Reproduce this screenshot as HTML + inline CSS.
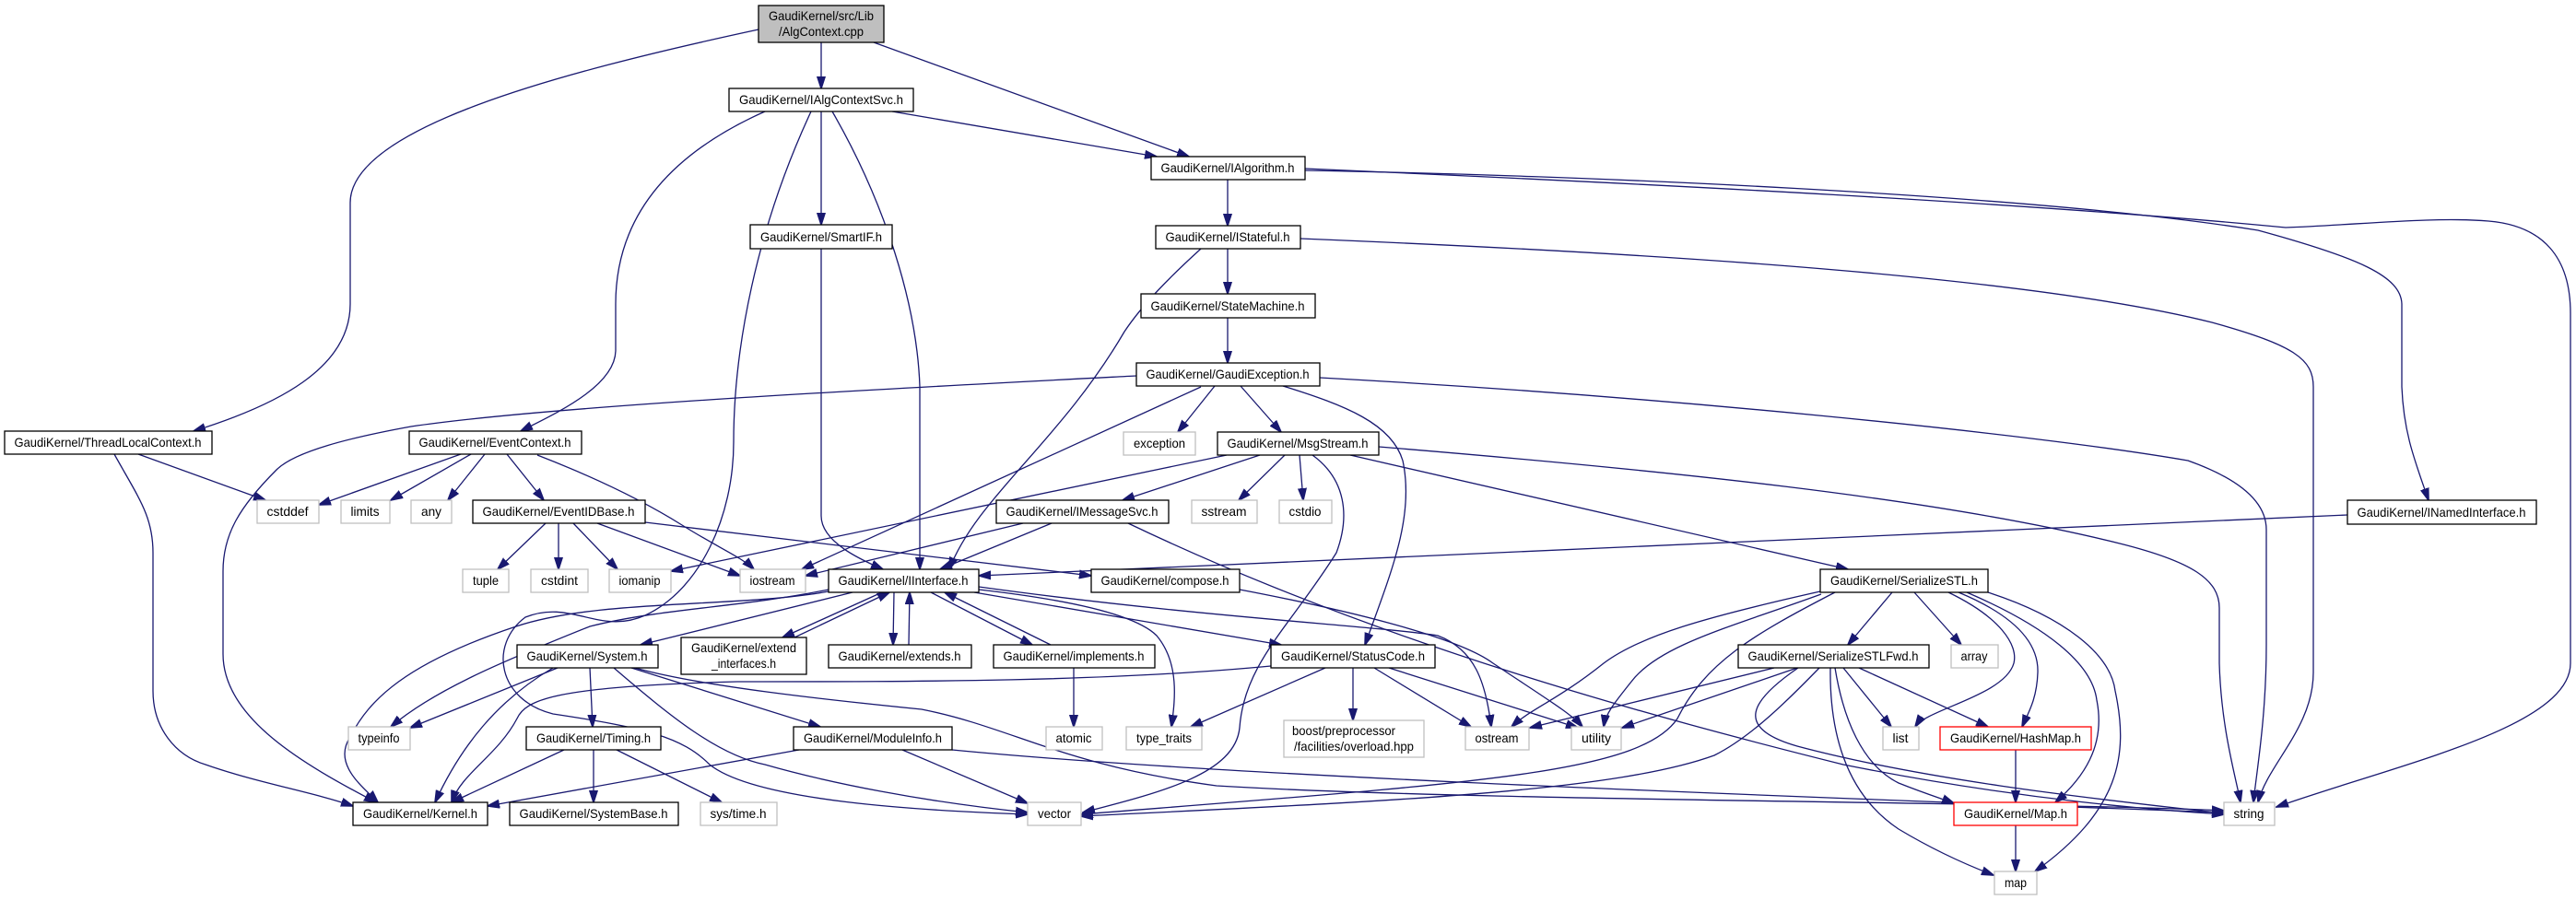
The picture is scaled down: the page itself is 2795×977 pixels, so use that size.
<!DOCTYPE html>
<html><head><meta charset="utf-8"><style>
html,body{margin:0;padding:0;background:#fff;}
svg{display:block;}
text{font-family:"Liberation Sans",sans-serif;font-size:14px;fill:#000;}
.e{fill:none;stroke:#191970;stroke-width:1.3;}
.n{fill:#fff;stroke:#000;stroke-width:1.3;}
.g{fill:#fff;stroke:#bfbfbf;stroke-width:1.3;}
.r{fill:#fff;stroke:#ff0000;stroke-width:1.3;}
</style></head><body>
<svg width="2795" height="977" viewBox="0 0 2795 977" xmlns="http://www.w3.org/2000/svg">
<defs><marker id="a" viewBox="0 0 14 10" markerWidth="14" markerHeight="10" refX="13" refY="5" orient="auto" markerUnits="userSpaceOnUse"><path d="M0,0.5 L14,5 L0,9.5 z" fill="#191970" stroke="#191970"/></marker></defs>
<g class="e" marker-end="url(#a)">
<path d="M891,46 L891,96"/>
<path d="M948,46 L1290,170"/>
<path d="M823,32 C600,80 380,140 380,220 L380,330 C380,400 300,440 210,468"/>
<path d="M968,121 L1255,170"/>
<path d="M891,121 L891,244"/>
<path d="M830,121 C720,170 668,240 668,330 L668,380 C668,420 600,450 565,468"/>
<path d="M903,121 C960,220 995,330 998,420 L998,618"/>
<path d="M880,121 C820,250 796,380 796,480 C796,560 760,640 700,668 C650,690 620,650 570,670 C530,700 540,760 600,775 C700,790 740,800 770,830 C820,870 1000,880 1115,884"/>
<path d="M1332,195 L1332,245"/>
<path d="M1416,185 C1700,190 2200,210 2450,250 C2560,280 2605,300 2606,330 L2606,420 C2608,470 2620,500 2635,543"/>
<path d="M1416,183 C1800,200 2200,220 2480,247 C2560,244 2640,235 2700,240 C2760,245 2789,280 2789,340 L2789,720 C2789,790 2600,830 2470,876"/>
<path d="M1332,270 L1332,319"/>
<path d="M1303,270 C1270,300 1240,330 1220,360 C1150,480 1060,540 1030,618"/>
<path d="M1411,259 C1800,275 2200,300 2400,350 C2490,375 2510,390 2510,420 L2510,730 C2510,790 2460,830 2450,871"/>
<path d="M1332,345 L1332,394"/>
<path d="M1318,419 L1278,469"/>
<path d="M1346,419 L1390,469"/>
<path d="M1392,419 C1460,440 1510,460 1522,500 C1535,560 1510,620 1481,700"/>
<path d="M1432,410 C1800,430 2200,470 2374,500 C2430,520 2459,545 2459,575 L2459,700 C2459,780 2448,840 2445,871"/>
<path d="M1496,485 C1800,510 2100,540 2300,590 C2380,610 2408,630 2408,660 L2408,720 C2410,790 2425,840 2431,871"/>
<path d="M1233,408 C1000,420 600,440 446,463 C380,475 320,490 300,510 C260,550 242,580 242,620 L242,710 C242,780 330,830 408,871"/>
<path d="M1303,420 L870,618"/>
<path d="M1331,494 L728,620"/>
<path d="M1110,568 L874,625"/>
<path d="M1367,494 L1218,543"/>
<path d="M1394,494 L1344,543"/>
<path d="M1410,494 L1414,543"/>
<path d="M1424,494 C1460,520 1465,560 1450,600 C1400,680 1350,720 1345,790 C1340,840 1260,860 1175,882"/>
<path d="M1465,494 L2005,618"/>
<path d="M1141,568 L1020,618"/>
<path d="M1224,568 C1500,700 1800,780 2000,830 C2200,870 2350,880 2413,884"/>
<path d="M891,270 L891,560 C891,590 940,610 958,618"/>
<path d="M2547,559 L1062,625"/>
<path d="M500,493 L346,548"/>
<path d="M511,493 L424,543"/>
<path d="M526,493 L486,543"/>
<path d="M550,493 L590,543"/>
<path d="M583,494 C650,520 700,545 740,570 C780,595 805,605 818,618"/>
<path d="M150,493 L288,543"/>
<path d="M124,493 C150,540 166,560 166,600 L166,750 C166,790 190,820 223,830 C280,850 340,860 383,875"/>
<path d="M592,568 L540,618"/>
<path d="M606,568 L606,618"/>
<path d="M622,568 L670,618"/>
<path d="M648,568 L803,625"/>
<path d="M700,567 L1184,625"/>
<path d="M925,643 L695,700"/>
<path d="M957,643 L849,692"/>
<path d="M862,692 L965,643"/>
<path d="M970,643 L969,700"/>
<path d="M986,700 L987,643"/>
<path d="M1010,643 L1120,700"/>
<path d="M1140,700 L1025,643"/>
<path d="M1057,643 L1390,700"/>
<path d="M1062,637 C1300,670 1500,680 1560,690 C1600,705 1612,740 1618,789"/>
<path d="M1062,640 C1150,650 1230,665 1255,690 C1280,720 1275,760 1271,789"/>
<path d="M899,640 C800,660 720,660 640,680 C540,720 470,750 424,789"/>
<path d="M899,642 C800,660 650,650 560,680 C440,720 400,760 380,800 C360,830 395,855 410,871"/>
<path d="M605,725 L445,790"/>
<path d="M600,725 C540,760 500,810 472,871"/>
<path d="M1379,723 C1200,740 1000,740 800,740 C600,745 570,760 561,780 C540,820 500,840 490,871"/>
<path d="M640,725 L643,789"/>
<path d="M685,725 L890,789"/>
<path d="M666,725 C730,780 780,820 830,830 C900,850 1000,870 1115,882"/>
<path d="M689,725 C760,745 900,760 1000,770 C1100,790 1150,830 1320,853 C1600,870 2200,870 2413,880"/>
<path d="M612,814 L490,871"/>
<path d="M644,814 L644,871"/>
<path d="M669,814 L783,871"/>
<path d="M867,814 L529,875"/>
<path d="M979,814 L1115,872"/>
<path d="M1033,814 C1300,840 1800,860 2413,882"/>
<path d="M1165,725 L1165,789"/>
<path d="M1438,725 L1292,789"/>
<path d="M1468,725 L1468,782"/>
<path d="M1491,725 L1596,789"/>
<path d="M1507,725 L1712,790"/>
<path d="M1345,640 C1450,660 1580,690 1620,720 C1680,760 1705,775 1717,789"/>
<path d="M2053,643 L2005,700"/>
<path d="M2077,643 L2128,700"/>
<path d="M1975,642 C1850,670 1780,690 1740,720 C1690,760 1660,770 1640,789"/>
<path d="M1976,645 C1880,680 1800,700 1770,740 C1750,765 1742,775 1740,789"/>
<path d="M1991,643 C1900,690 1850,720 1820,780 C1780,840 1600,850 1173,884"/>
<path d="M2114,643 C2170,670 2190,700 2185,720 C2175,755 2090,770 2078,789"/>
<path d="M2125,643 C2190,670 2212,700 2211,730 C2210,760 2200,775 2194,789"/>
<path d="M2134,643 C2220,680 2270,720 2275,760 C2285,810 2260,845 2230,871"/>
<path d="M2157,643 C2240,670 2290,710 2295,750 C2310,820 2300,880 2208,946"/>
<path d="M2000,725 L2052,789"/>
<path d="M2017,725 L2157,789"/>
<path d="M1991,725 C2000,780 2020,830 2060,850 C2090,862 2110,868 2120,872"/>
<path d="M1986,725 C1985,790 2000,860 2060,900 C2110,930 2150,945 2163,950"/>
<path d="M1925,725 L1660,790"/>
<path d="M1950,725 L1760,790"/>
<path d="M1974,725 C1940,760 1900,800 1860,820 C1750,860 1500,870 1173,886"/>
<path d="M1951,725 C1900,760 1880,790 1950,810 C2100,850 2300,870 2413,883"/>
<path d="M2187,814 L2187,871"/>
<path d="M2187,896 L2187,946"/>
</g>
<g text-anchor="middle">
<rect x="823" y="6" width="136" height="40" fill="#bfbfbf" stroke="#000" stroke-width="1.3"/>
<text x="891" y="22" textLength="114" lengthAdjust="spacingAndGlyphs">GaudiKernel/src/Lib</text>
<text x="891" y="39" textLength="92" lengthAdjust="spacingAndGlyphs">/AlgContext.cpp</text>

<rect class="n" x="791" y="96" width="200" height="25"/><text x="891" y="113" textLength="178" lengthAdjust="spacingAndGlyphs">GaudiKernel/IAlgContextSvc.h</text>
<rect class="n" x="1249" y="170" width="167" height="25"/><text x="1332" y="187" textLength="145" lengthAdjust="spacingAndGlyphs">GaudiKernel/IAlgorithm.h</text>
<rect class="n" x="814" y="244" width="154" height="26"/><text x="891" y="262" textLength="132" lengthAdjust="spacingAndGlyphs">GaudiKernel/SmartIF.h</text>
<rect class="n" x="1254" y="245" width="157" height="25"/><text x="1332" y="262" textLength="135" lengthAdjust="spacingAndGlyphs">GaudiKernel/IStateful.h</text>
<rect class="n" x="1238" y="319" width="189" height="26"/><text x="1332" y="337" textLength="167" lengthAdjust="spacingAndGlyphs">GaudiKernel/StateMachine.h</text>
<rect class="n" x="1233" y="394" width="199" height="25"/><text x="1332" y="411" textLength="177" lengthAdjust="spacingAndGlyphs">GaudiKernel/GaudiException.h</text>
<rect class="n" x="5" y="468" width="225" height="25"/><text x="117" y="485" textLength="203" lengthAdjust="spacingAndGlyphs">GaudiKernel/ThreadLocalContext.h</text>
<rect class="n" x="444" y="468" width="187" height="25"/><text x="537" y="485" textLength="165" lengthAdjust="spacingAndGlyphs">GaudiKernel/EventContext.h</text>
<rect class="g" x="1219" y="469" width="78" height="25"/><text x="1258" y="486" textLength="56" lengthAdjust="spacingAndGlyphs">exception</text>
<rect class="n" x="1321" y="469" width="175" height="25"/><text x="1408" y="486" textLength="153" lengthAdjust="spacingAndGlyphs">GaudiKernel/MsgStream.h</text>
<rect class="g" x="279" y="543" width="67" height="25"/><text x="312" y="560" textLength="45" lengthAdjust="spacingAndGlyphs">cstddef</text>
<rect class="g" x="370" y="543" width="53" height="25"/><text x="396" y="560" textLength="31" lengthAdjust="spacingAndGlyphs">limits</text>
<rect class="g" x="446" y="543" width="44" height="25"/><text x="468" y="560" textLength="22" lengthAdjust="spacingAndGlyphs">any</text>
<rect class="n" x="513" y="543" width="187" height="25"/><text x="606" y="560" textLength="165" lengthAdjust="spacingAndGlyphs">GaudiKernel/EventIDBase.h</text>
<rect class="n" x="1081" y="543" width="187" height="25"/><text x="1174" y="560" textLength="165" lengthAdjust="spacingAndGlyphs">GaudiKernel/IMessageSvc.h</text>
<rect class="g" x="1293" y="543" width="71" height="25"/><text x="1328" y="560" textLength="49" lengthAdjust="spacingAndGlyphs">sstream</text>
<rect class="g" x="1388" y="543" width="57" height="25"/><text x="1416" y="560" textLength="35" lengthAdjust="spacingAndGlyphs">cstdio</text>
<rect class="n" x="2547" y="543" width="205" height="26"/><text x="2649" y="561" textLength="183" lengthAdjust="spacingAndGlyphs">GaudiKernel/INamedInterface.h</text>
<rect class="g" x="502" y="618" width="50" height="25"/><text x="527" y="635" textLength="28" lengthAdjust="spacingAndGlyphs">tuple</text>
<rect class="g" x="576" y="618" width="62" height="25"/><text x="607" y="635" textLength="40" lengthAdjust="spacingAndGlyphs">cstdint</text>
<rect class="g" x="661" y="618" width="67" height="25"/><text x="694" y="635" textLength="45" lengthAdjust="spacingAndGlyphs">iomanip</text>
<rect class="g" x="803" y="618" width="71" height="25"/><text x="838" y="635" textLength="49" lengthAdjust="spacingAndGlyphs">iostream</text>
<rect class="n" x="899" y="618" width="163" height="25"/><text x="980" y="635" textLength="141" lengthAdjust="spacingAndGlyphs">GaudiKernel/IInterface.h</text>
<rect class="n" x="1184" y="618" width="161" height="25"/><text x="1264" y="635" textLength="139" lengthAdjust="spacingAndGlyphs">GaudiKernel/compose.h</text>
<rect class="n" x="1975" y="618" width="182" height="25"/><text x="2066" y="635" textLength="160" lengthAdjust="spacingAndGlyphs">GaudiKernel/SerializeSTL.h</text>
<rect class="n" x="561" y="700" width="153" height="25"/><text x="637" y="717" textLength="131" lengthAdjust="spacingAndGlyphs">GaudiKernel/System.h</text>
<rect class="n" x="739" y="692" width="136" height="40"/>
<text x="807" y="708" textLength="114" lengthAdjust="spacingAndGlyphs">GaudiKernel/extend</text>
<text x="807" y="725" textLength="70" lengthAdjust="spacingAndGlyphs">_interfaces.h</text>
<rect class="n" x="899" y="700" width="155" height="25"/><text x="976" y="717" textLength="133" lengthAdjust="spacingAndGlyphs">GaudiKernel/extends.h</text>
<rect class="n" x="1078" y="700" width="175" height="25"/><text x="1165" y="717" textLength="153" lengthAdjust="spacingAndGlyphs">GaudiKernel/implements.h</text>
<rect class="n" x="1379" y="700" width="178" height="25"/><text x="1468" y="717" textLength="156" lengthAdjust="spacingAndGlyphs">GaudiKernel/StatusCode.h</text>
<rect class="n" x="1886" y="700" width="207" height="25"/><text x="1989" y="717" textLength="185" lengthAdjust="spacingAndGlyphs">GaudiKernel/SerializeSTLFwd.h</text>
<rect class="g" x="2117" y="700" width="51" height="25"/><text x="2142" y="717" textLength="29" lengthAdjust="spacingAndGlyphs">array</text>
<rect class="g" x="378" y="789" width="67" height="25"/><text x="411" y="806" textLength="45" lengthAdjust="spacingAndGlyphs">typeinfo</text>
<rect class="n" x="571" y="789" width="146" height="25"/><text x="644" y="806" textLength="124" lengthAdjust="spacingAndGlyphs">GaudiKernel/Timing.h</text>
<rect class="n" x="861" y="789" width="172" height="25"/><text x="947" y="806" textLength="150" lengthAdjust="spacingAndGlyphs">GaudiKernel/ModuleInfo.h</text>
<rect class="g" x="1135" y="789" width="61" height="25"/><text x="1165" y="806" textLength="39" lengthAdjust="spacingAndGlyphs">atomic</text>
<rect class="g" x="1222" y="789" width="82" height="25"/><text x="1263" y="806" textLength="60" lengthAdjust="spacingAndGlyphs">type_traits</text>
<rect class="g" x="1393" y="782" width="152" height="40"/>
<text x="1458" y="798" textLength="112" lengthAdjust="spacingAndGlyphs">boost/preprocessor</text>
<text x="1469" y="815" textLength="130" lengthAdjust="spacingAndGlyphs">/facilities/overload.hpp</text>
<rect class="g" x="1590" y="789" width="69" height="25"/><text x="1624" y="806" textLength="47" lengthAdjust="spacingAndGlyphs">ostream</text>
<rect class="g" x="1705" y="789" width="54" height="25"/><text x="1732" y="806" textLength="32" lengthAdjust="spacingAndGlyphs">utility</text>
<rect class="g" x="2043" y="789" width="39" height="25"/><text x="2062" y="806" textLength="17" lengthAdjust="spacingAndGlyphs">list</text>
<rect class="r" x="2105" y="789" width="164" height="25"/><text x="2187" y="806" textLength="142" lengthAdjust="spacingAndGlyphs">GaudiKernel/HashMap.h</text>
<rect class="n" x="383" y="871" width="146" height="25"/><text x="456" y="888" textLength="124" lengthAdjust="spacingAndGlyphs">GaudiKernel/Kernel.h</text>
<rect class="n" x="553" y="871" width="183" height="25"/><text x="644" y="888" textLength="161" lengthAdjust="spacingAndGlyphs">GaudiKernel/SystemBase.h</text>
<rect class="g" x="760" y="871" width="83" height="25"/><text x="801" y="888" textLength="61" lengthAdjust="spacingAndGlyphs">sys/time.h</text>
<rect class="g" x="1115" y="871" width="58" height="25"/><text x="1144" y="888" textLength="36" lengthAdjust="spacingAndGlyphs">vector</text>
<rect class="r" x="2120" y="871" width="134" height="25"/><text x="2187" y="888" textLength="112" lengthAdjust="spacingAndGlyphs">GaudiKernel/Map.h</text>
<rect class="g" x="2413" y="871" width="55" height="25"/><text x="2440" y="888" textLength="33" lengthAdjust="spacingAndGlyphs">string</text>
<rect class="g" x="2164" y="946" width="46" height="25"/><text x="2187" y="963" textLength="24" lengthAdjust="spacingAndGlyphs">map</text>
</g>
</svg>
</body></html>
